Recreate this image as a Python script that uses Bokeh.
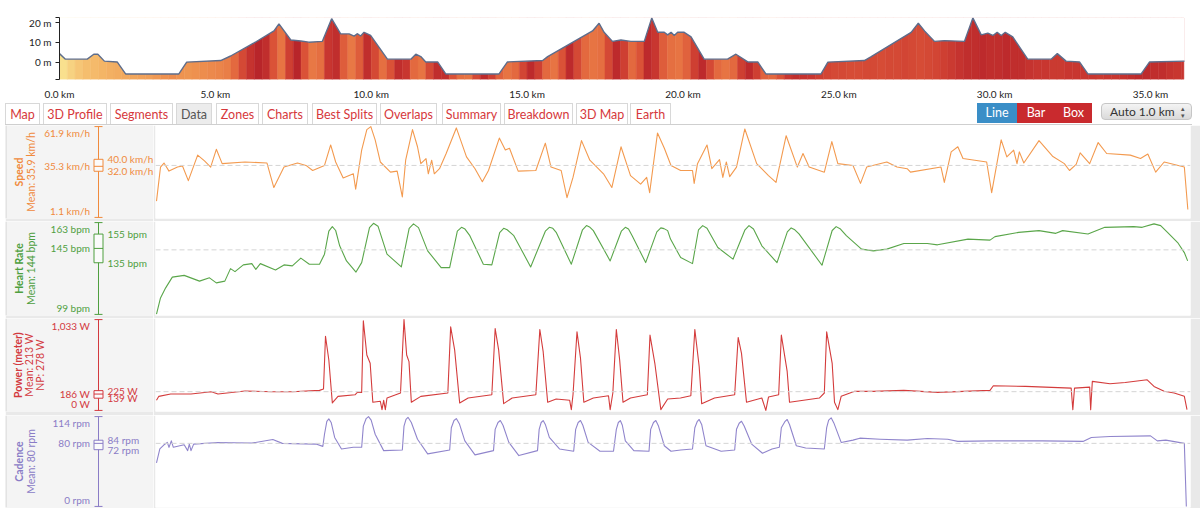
from math import pi
import numpy as np
from bokeh.plotting import figure
from bokeh.models import (Range1d, FixedTicker, PrintfTickFormatter, Span,
                          ColumnDataSource, LinearColorMapper, Div)
from bokeh.transform import transform
from bokeh.layouts import column, row
from bokeh.embed import file_html
from bokeh.resources import INLINE
from bokeh.core.properties import value

FONT = "Lato"

# ---------------- elevation profile (distance km, elevation m) ----------------
elev_km = [0.0, 0.19, 0.89, 1.1, 1.23, 1.44, 1.85, 2.12, 3.83, 4.08,
           5.17, 5.49, 6.24, 6.88, 7.04, 7.42, 7.74, 8.0, 8.43, 8.73,
           9.02, 9.29, 9.45, 9.56, 9.66, 9.77, 9.98, 10.52, 11.27, 11.43,
           11.59, 11.75, 12.13, 12.39, 14.1, 14.37, 15.5, 15.66, 17.1, 17.31,
           17.47, 17.74, 18.01, 18.33, 18.76, 19.0, 19.19, 19.4, 19.51, 19.62,
           19.72, 19.83, 20.04, 20.26, 20.68, 21.43, 21.7, 22.08, 22.4, 22.66,
           24.43, 24.65, 25.82, 26.04, 27.32, 27.55, 27.75, 28.07, 28.39, 29.03,
           29.3, 29.57, 29.78, 29.94, 30.08, 30.21, 30.34, 30.58, 31.06, 31.81,
           32.01, 32.29, 32.72, 32.99, 34.7, 34.97, 36.09]
elev_m = [4.3, 1.5, 1.5, 4.0, 4.0, 0.5, 0.1, -6.0, -6.0, 0.0,
          0.8, 3.1, 9.7, 15.8, 19.4, 11.2, 10.7, 10.1, 10.5, 22.0,
          14.3, 14.3, 13.2, 14.4, 13.2, 15.1, 13.5, 1.5, 1.5, 4.0,
          2.8, 0.1, 0.1, -6.0, -6.0, 0.1, 0.8, 2.8, 15.8, 19.7,
          15.1, 10.5, 11.2, 10.5, 10.5, 22.4, 15.1, 15.1, 13.8, 15.1,
          13.5, 15.1, 15.1, 12.8, 1.5, 1.5, 4.0, 0.1, 0.1, -6.0,
          -6.0, 0.0, 0.8, 2.8, 15.1, 19.7, 15.8, 10.5, 10.9, 10.5,
          22.4, 13.8, 14.7, 13.5, 15.1, 13.5, 15.1, 12.8, 1.5, 1.5,
          4.3, 0.5, 0.1, -6.0, -6.0, 0.1, 0.5]
elev_ticks_km = [0, 5, 10, 15, 20, 25, 30, 35]
elev_ticks_m = [0, 10, 20]

# colour intensity of the profile, one value per 0.25 km
elev_color_level = [
    0.0, 0.08, 0.15, 0.2,   0.22, 0.25, 0.28, 0.3,   0.32, 0.34, 0.36, 0.38,
    0.42, 0.46, 0.48, 0.45, 0.44, 0.46, 0.48, 0.5,   0.52, 0.55, 0.65, 0.8,
    0.92, 1.0, 0.95, 0.75,  0.6, 0.85, 1.0, 0.75,    0.58, 0.62, 0.9, 0.95,
    0.7, 0.58, 0.7, 0.95,   0.8, 0.62, 0.75, 0.95,   0.9, 0.65, 0.6, 0.8,
    0.95, 0.95, 0.75, 0.62, 0.6, 0.8, 0.97, 0.85,    0.68, 0.6, 0.65, 0.82,
    0.97, 0.85, 0.65, 0.6,  0.75, 0.97, 0.8, 0.65,   0.6, 0.62, 0.8, 0.97,
    0.85, 0.65, 0.75, 0.97, 0.9, 0.7, 0.62, 0.6,     0.68, 0.85, 0.97, 0.8,
    0.65, 0.6, 0.65, 0.85,  0.97, 0.85, 0.68, 0.65,  0.75, 0.9, 0.95, 0.92,
    0.9, 0.85, 0.82, 0.8,   0.8, 0.78, 0.78, 0.8,    0.8, 0.78, 0.8, 0.8,
    0.82, 0.8, 0.78, 0.8,   0.82, 0.85, 0.88, 0.92,  0.95, 0.95, 0.97, 0.95,
    0.95, 0.97, 0.95, 0.95, 0.92, 0.9, 0.9, 0.88,    0.88, 0.9, 0.9, 0.9,
    0.9, 0.88, 0.9, 0.9,    0.92, 0.95, 0.97, 0.97,  0.95, 0.95, 0.92, 0.9,
    0.9]
STRIPE_KM = 0.25

# ---------------- data panels (elapsed minutes) ----------------
speed_t = [0, 0.24, 0.45, 0.75, 1.26, 1.56, 1.91, 2.47, 2.88, 3.25,
           3.59, 3.94, 5.31, 6.63, 7.04, 7.65, 8.46, 8.97, 9.37, 10.08,
           10.45, 10.75, 11.2, 11.81, 11.95, 12.31, 12.62, 12.86, 13.12, 13.43,
           14.04, 14.44, 14.75, 14.95, 15.36, 15.66, 15.86, 16.17, 16.31, 16.51,
           16.67, 16.98, 17.38, 17.99, 18.6, 19.11, 19.55, 19.92, 20.57, 20.93,
           21.18, 21.7, 22.76, 23.33, 23.67, 24.28, 24.63, 24.99, 25.5, 26.0,
           26.82, 27.32, 27.87, 28.44, 29.05, 29.41, 29.59, 30.06, 30.47, 30.87,
           31.45, 32.16, 32.26, 32.46, 33.03, 33.32, 33.78, 33.98, 34.19,
           34.39, 34.8, 35.3, 36.01, 36.72, 37.17, 37.78, 38.45, 38.79, 39.16,
           40.07, 40.52, 40.88, 41.79, 42.24, 42.61, 43.82, 44.43, 45.04, 45.24,
           47.07, 47.27, 47.68, 48.08, 48.39, 49.1, 49.81, 50.11, 50.68, 51.02,
           51.43, 51.63, 51.77, 52.04, 52.95, 53.76, 54.47, 54.78, 55.18, 55.42,
           55.99, 56.5, 57.01, 58.43, 59.04, 59.48, 59.95, 60.46, 61.67, 61.88]
speed_v = [12.0, 34.8, 37.5, 32.1, 34.8, 35.5, 25.7, 42.8, 38.9, 34.8,
           46.7, 37.1, 38.2, 37.5, 21.1, 34.8, 37.5, 35.9, 32.5, 35.9,
           49.6, 38.2, 27.5, 30.3, 20.0, 46.2, 59.9, 61.9, 53.0, 38.2,
           31.4, 32.1, 14.8, 39.4, 59.9, 48.4, 37.1, 40.5, 30.3, 39.4,
           30.3, 33.7, 43.9, 61.0, 41.6, 33.7, 25.0, 32.5, 54.2, 46.2,
           47.4, 32.1, 32.5, 50.8, 34.8, 32.5, 14.3, 27.9, 52.5, 39.4,
           30.3, 21.1, 48.4, 29.1, 23.4, 27.9, 17.7, 57.6, 47.4, 35.9,
           32.5, 32.5, 23.9, 37.1, 49.6, 33.7, 39.8, 27.9, 38.2,
           28.4, 34.8, 60.3, 37.1, 29.1, 24.5, 55.8, 34.8, 43.9, 34.8,
           31.4, 51.9, 37.1, 35.9, 23.9, 34.8, 38.2, 34.8, 33.7, 31.4,
           34.8, 24.5, 45.0, 48.4, 40.5, 39.4, 38.2, 17.7, 53.0, 41.6,
           46.2, 37.1, 45.0, 37.5, 52.5, 42.1, 37.1, 32.5, 36.6, 44.3,
           37.1, 51.2, 43.9, 42.8, 40.5, 43.5, 31.4, 38.2, 34.8, 6.4]

hr_t = [0, 0.24, 0.55, 0.95, 1.66, 2.58, 3.18, 3.59, 4.1, 4.44,
        4.71, 5.21, 5.72, 5.96, 6.23, 7.14, 7.65, 8.15, 8.66, 9.17,
        9.78, 10.08, 10.34, 10.55, 10.75, 10.99, 11.4, 11.97, 12.31, 12.78,
        13.02, 13.29, 13.83, 14.69, 15.16, 15.42, 15.72, 16.27, 17.08, 17.59,
        18.05, 18.3, 18.51, 18.8, 19.61, 20.12, 20.59, 20.83, 21.04, 21.44,
        22.45, 23.33, 23.57, 23.78, 23.98, 24.89, 25.56, 25.8, 25.98, 26.21,
        27.22, 27.89, 28.13, 28.32, 28.54, 29.35, 30.02, 30.26, 30.45, 30.67,
        30.84, 31.45, 32.16, 32.52, 32.77, 33.03, 33.68, 34.59, 35.31, 35.55,
        35.82, 36.32, 37.23, 37.85, 38.08, 38.3, 38.55, 39.93, 40.54, 40.78,
        41.04, 41.39, 42.3, 43.01, 43.82, 44.84, 46.25, 46.86, 48.69, 50.01,
        50.31, 51.73, 52.95, 53.96, 54.37, 55.89, 56.9, 58.63, 59.14, 59.85,
        60.25, 60.66, 61.27, 61.67, 61.87]
hr_v = [99.2, 110.5, 117.5, 125.0, 126.2, 122.2, 124.5, 121.0, 122.2, 130.9,
        128.8, 133.5, 134.4, 130.4, 134.4, 130.0, 133.5, 132.8, 138.2, 134.0,
        134.0, 141.0, 157.0, 160.2, 157.5, 146.8, 136.3, 128.5, 135.1, 159.5,
        162.5, 160.5, 141.0, 132.1, 159.0, 162.1, 159.5, 143.3, 131.6, 131.6,
        157.0, 159.7, 158.5, 153.9, 134.0, 133.5, 156.0, 159.0, 158.0, 153.9,
        132.1, 157.0, 159.7, 159.0, 156.2, 134.0, 158.0, 160.9, 160.0, 157.4,
        136.3, 157.0, 159.7, 158.5, 153.9, 135.1, 156.5, 159.3, 158.8, 157.4,
        151.5, 138.6, 134.4, 158.0, 160.9, 159.0, 145.6, 137.5, 158.0, 160.9,
        158.5, 146.8, 135.1, 156.5, 159.3, 158.0, 155.1, 133.3, 157.5, 160.2,
        158.5, 153.9, 144.5, 143.3, 144.5, 148.4, 148.4, 147.5, 151.5, 150.8,
        153.2, 156.2, 157.4, 155.5, 157.4, 155.1, 159.7, 160.2, 159.7, 162.1,
        160.9, 156.2, 149.1, 142.1, 136.3]

power_t = [0, 0.14, 0.85, 2.07, 3.29, 3.69, 5.31, 6.94, 8.15, 9.78,
           10.02, 10.14, 10.34, 10.55, 10.89, 11.91, 12.05, 12.31, 12.41, 12.62,
           12.82, 12.98, 13.43, 13.53, 13.63, 13.73, 13.83, 14.64, 14.85, 15.01,
           15.15, 15.29, 15.86, 17.48, 17.65, 17.89, 18.19, 18.7, 20.12, 20.32,
           20.53, 20.83, 21.34, 22.76, 23.0, 23.2, 23.47, 23.98, 24.79, 24.89,
           24.99, 25.23, 25.44, 25.64, 26.21, 27.12, 27.22, 27.38, 27.59, 27.79,
           27.99, 28.44, 29.45, 29.61, 29.9, 30.26, 30.67, 31.44, 32.06, 32.3,
           32.56, 32.71, 33.48, 34.69, 34.9, 35.1, 35.4, 36.32, 36.56, 36.72,
           37.33, 37.49, 37.84, 37.98, 39.77, 40.07, 40.21, 40.54, 40.68, 40.88,
           41.08, 41.89, 43.01, 44.84, 46.86, 50.01, 50.21, 52.14, 54.88, 54.98,
           55.08, 55.99, 56.05, 56.15, 57.21, 58.12, 59.44, 59.85, 60.46, 61.06,
           61.67, 61.83]
power_v = [115, 160, 186, 186, 212, 186, 220, 212, 212, 228,
           243, 844, 573, 85, 160, 178, 205, 205, 1018, 630,
           536, 93, 104, 9, 115, 9, 141, 198, 1033, 630,
           555, 93, 160, 198, 951, 686, 85, 141, 178, 931,
           686, 77, 141, 178, 920, 668, 93, 130, 115, 9,
           178, 894, 593, 93, 141, 167, 9, 198, 920, 573,
           93, 141, 178, 856, 536, 9, 130, 141, 167, 920,
           499, 77, 141, 178, 830, 649, 93, 141, 0, 152,
           178, 856, 443, 93, 141, 198, 894, 536, 93, 9,
           160, 217, 217, 228, 205, 228, 280, 273, 254, 9,
           254, 265, 9, 330, 303, 318, 348, 273, 217, 198,
           160, 9]

cad_t = [0, 0.2, 0.45, 0.65, 0.75, 0.89, 1.01, 1.66, 1.87, 1.97,
         2.07, 2.23, 3.69, 5.72, 6.98, 7.55, 9.57, 9.98, 10.08, 10.22,
         10.34, 10.48, 10.69, 11.1, 11.81, 12.31, 12.41, 12.58, 12.72, 12.88,
         13.12, 13.63, 14.75, 14.85, 14.97, 15.09, 15.29, 15.66, 16.27, 17.59,
         17.69, 17.85, 17.99, 18.17, 18.5, 19.11, 20.22, 20.32, 20.49, 20.63,
         20.79, 21.14, 21.74, 22.86, 22.96, 23.08, 23.2, 23.33, 23.57, 24.18,
         25.03, 25.15, 25.3, 25.44, 25.58, 25.9, 26.61, 27.42, 27.59, 27.71,
         27.83, 27.95, 28.13, 28.64, 29.55, 29.65, 29.82, 29.96, 30.12, 30.47,
         30.87, 31.45, 32.16, 32.3, 32.44, 32.56, 32.71, 32.97, 33.88,
         34.69, 34.8, 34.96, 35.1, 35.26, 35.71, 36.36, 36.93, 37.37, 37.49,
         37.7, 37.84, 37.98, 38.39, 38.95, 40.07, 40.21, 40.33, 40.48, 40.64,
         41.08, 41.79, 42.2, 43.42, 45.04, 46.26, 47.47, 48.08, 50.11, 53.15,
         55.59, 56.09, 57.21, 59.64, 60.05, 60.56, 61.67, 61.79]
cad_v = [55.1, 72.9, 78.2, 81.2, 75.0, 83.2, 75.0, 78.2, 70.8, 79.1,
         70.8, 79.1, 81.2, 80.4, 85.0, 80.0, 79.1, 76.2, 91.6, 108.0,
         111.1, 106.5, 87.5, 72.9, 75.0, 75.0, 101.9, 111.5, 114.0, 109.5,
         91.6, 70.8, 71.6, 101.9, 110.5, 113.1, 106.5, 85.3, 66.7, 71.6,
         99.9, 109.0, 111.5, 105.0, 83.2, 65.4, 70.8, 97.8, 106.5, 109.0,
         103.0, 81.2, 64.5, 70.8, 97.8, 106.5, 109.0, 104.0, 87.5, 72.9,
         70.0, 97.8, 106.5, 109.0, 103.0, 81.2, 70.0, 70.0, 97.8, 106.5,
         109.0, 103.0, 83.2, 70.8, 70.0, 97.8, 106.5, 109.0, 102.0, 77.0,
         70.0, 71.6, 72.9, 99.9, 107.5, 110.3, 104.0, 77.0, 70.0,
         71.6, 97.8, 105.5, 108.1, 102.0, 79.1, 67.5, 72.9, 75.0, 99.9,
         107.5, 110.3, 104.0, 77.0, 74.1, 72.9, 99.9, 109.5, 112.4, 106.0,
         81.2, 84.1, 86.6, 85.3, 84.1, 86.2, 85.3, 82.5, 83.2, 83.2,
         82.5, 87.5, 88.7, 89.5, 83.2, 84.1, 80.0, 0.0]

# box stats: min, q1, median, q3, max
speed_box = [1.1, 32.0, 35.3, 40.0, 61.9]
hr_box = [99, 135, 145, 155, 163]
power_box = [0, 139, 186, 225, 1033]
cad_box = [0, 72, 80, 84, 114]
speed_mean, hr_mean, power_mean, power_np, cad_mean = 35.9, 144, 213, 278, 80

TAB_NAMES = ["Map", "3D Profile", "Segments", "Data", "Zones", "Charts",
             "Best Splits", "Overlaps", "Summary", "Breakdown", "3D Map", "Earth"]

# ---------------- styling ----------------
W = 1192
ROW_W = 1200
LEFT_W = 148
GAP_COLOR = "#e9e9e9"
LEFT_BG = "#f4f4f4"
ELEV_BOTTOM, ELEV_TOP = -8.8, 22.6
T_START, T_END = -0.06, 62.04


def hex2rgb(h):
    return tuple(int(h[i:i + 2], 16) for i in (1, 3, 5))


anchors = [(0.0, "#f9e08e"), (0.25, "#f4b566"), (0.45, "#ee9350"), (0.6, "#e77443"),
           (0.75, "#da5237"), (0.9, "#c83630"), (1.0, "#b8252a")]
palette = []
for i in range(101):
    f = i / 100
    for (a, ca), (b, cb) in zip(anchors[:-1], anchors[1:]):
        if a <= f <= b:
            w = (f - a) / (b - a)
            r1, r2 = hex2rgb(ca), hex2rgb(cb)
            palette.append("#%02x%02x%02x" % tuple(round(x + (y - x) * w) for x, y in zip(r1, r2)))
            break
mapper = LinearColorMapper(palette=palette, low=0, high=1)

# ---------------- elevation figure ----------------
KM_END = elev_km[-1]
STRIPE_END = KM_END - 0.02          # keep the colour bands inside the white mask
STRIPE_TOP = max(elev_m)
X_END = KM_END + 0.16               # a little empty room after the profile
elev = figure(width=W, height=102, x_range=Range1d(0, X_END),
              y_range=Range1d(ELEV_BOTTOM, ELEV_TOP),
              toolbar_location=None, output_backend="svg", title=None,
              min_border_left=59, min_border_right=3, min_border_top=17, min_border_bottom=17)
stripe_left = np.minimum(np.arange(len(elev_color_level)) * STRIPE_KM, STRIPE_END)
stripe_right = np.minimum(stripe_left + STRIPE_KM, STRIPE_END)
stripes = ColumnDataSource(dict(left=stripe_left, right=stripe_right, level=elev_color_level))
elev.quad(left="left", right="right", bottom=ELEV_BOTTOM, top=STRIPE_TOP, source=stripes,
          fill_color=transform("level", mapper), line_color=transform("level", mapper), line_width=0.5)
elev.varea(x=elev_km, y1=elev_m, y2=ELEV_TOP + 3, fill_color="white")
elev.line(elev_km, elev_m, line_color="#5d6d8c", line_width=1.4)
elev.grid.grid_line_color = None
elev.outline_line_color = None
elev.xaxis.ticker = FixedTicker(ticks=elev_ticks_km)
elev.xaxis.formatter = PrintfTickFormatter(format="%.1f km")
elev.xaxis.axis_line_color = None
elev.xaxis.major_tick_line_color = None
elev.xaxis.minor_tick_line_color = None
elev.xaxis.major_label_standoff = 2
elev.yaxis.ticker = FixedTicker(ticks=[ELEV_BOTTOM] + elev_ticks_m + [ELEV_TOP])
elev.yaxis.major_label_overrides = {ELEV_BOTTOM: "", ELEV_TOP: "", 0: "0 m", 10: "10 m", 20: "20 m"}
elev.yaxis.major_tick_out = 4
elev.yaxis.major_tick_in = 0
elev.yaxis.minor_tick_line_color = None
elev.yaxis.axis_line_color = "#222222"
elev.yaxis.major_tick_line_color = "#222222"
elev.yaxis.major_label_standoff = 4
for ax in (elev.xaxis, elev.yaxis):
    ax.major_label_text_font = FONT
    ax.major_label_text_font_size = "10px"
    ax.major_label_text_color = "#222222"

# ---------------- tab bar ----------------
TAB_X = [(5, 40), (43, 107), (110, 173), (176, 212), (216, 259), (262, 308),
         (312, 377), (380, 437), (442, 501), (504, 573), (576, 628), (630, 671)]
parts = [f'<div style="position:relative;width:{W}px;height:23px;font-family:Lato,sans-serif;">']
for name, (x0, x1) in zip(TAB_NAMES, TAB_X):
    active = name == "Data"
    bg = "#ececec" if active else "#ffffff"
    fg = "#555555" if active else "#d6383c"
    parts.append(
        f'<div style="position:absolute;left:{x0}px;top:1px;width:{x1 - x0}px;height:22px;'
        f'box-sizing:border-box;border:1px solid #d8d8d8;border-bottom:none;background:{bg};'
        f'color:{fg};font-size:12.5px;line-height:21px;text-align:center;white-space:nowrap;">{name}</div>')
parts.append(f'<div style="position:absolute;left:5px;top:22px;width:{W - 5}px;height:1px;background:#cfcfcf;"></div>')
for name, (x0, x1), bg in [("Line", (977, 1017), "#3a8ec7"), ("Bar", (1017, 1055), "#c92a2e"),
                           ("Box", (1055, 1092), "#c92a2e")]:
    parts.append(
        f'<div style="position:absolute;left:{x0}px;top:1px;width:{x1 - x0}px;height:20px;'
        f'background:{bg};color:#ffffff;font-size:12.5px;line-height:20px;text-align:center;">{name}</div>')
parts.append(
    '<div style="position:absolute;left:1101px;top:1px;width:91px;height:17px;box-sizing:border-box;'
    'border:1px solid #c6c6c6;border-radius:4px;background:linear-gradient(#f4f4f4,#dadada);'
    'color:#333333;font-size:12px;line-height:15px;padding-left:8px;">Auto 1.0 km'
    '<span style="position:absolute;right:6px;top:1px;font-size:7px;line-height:7px;color:#555;">'
    '&#9652;<br>&#9662;</span></div>')
parts.append('</div>')
tabdiv = Div(text="".join(parts), width=W, height=23, margin=(0, 0, 0, 0))

# ---------------- data panels ----------------
BX = 93  # position of the box-plot axis inside the label column


def make_panel(t, v, box, titles, color, line_color, fmt, mean, fig_h, gap, title_x):
    lo, q1, med, q3, hi = box
    pad = (hi - lo) * 0.012
    yr = Range1d(lo - pad, hi + pad)
    mf = figure(width=ROW_W - 5 - LEFT_W, height=fig_h, x_range=Range1d(T_START, T_END), y_range=yr,
                toolbar_location=None, output_backend="svg", title=None,
                x_axis_location=None, y_axis_location=None,
                min_border_left=2, min_border_right=10, min_border_top=0, min_border_bottom=gap,
                background_fill_color="white", border_fill_color=GAP_COLOR)
    mf.outline_line_color = None
    mf.grid.grid_line_color = None
    mf.add_layout(Span(location=mean, dimension="width", line_color="#d4d4d4",
                       line_dash="5 3", line_width=1))
    mf.line(t, v, line_color=line_color, line_width=1.1, line_join="round")

    lf = figure(width=LEFT_W, height=fig_h, x_range=Range1d(0, LEFT_W), y_range=yr,
                toolbar_location=None, output_backend="svg", title=None,
                x_axis_location=None, y_axis_location=None,
                min_border_left=0, min_border_right=0, min_border_top=0, min_border_bottom=gap,
                background_fill_color=LEFT_BG, border_fill_color=GAP_COLOR)
    lf.outline_line_color = None
    lf.grid.grid_line_color = None
    lf.add_layout(Span(location=0.5, dimension="height", line_color="#d2d2d2", line_width=1))
    ymid = (lo + hi) / 2
    for i, (txt, tx) in enumerate(zip(titles, title_x)):
        lf.text(x=[tx], y=[ymid], text=[txt], angle=pi / 2, text_align="center",
                text_baseline="middle", text_font=value(FONT), text_font_size="10.5px",
                text_font_style="bold" if i == 0 else "normal", text_color=color)
    lf.segment(x0=[BX], y0=[lo], x1=[BX], y1=[hi], line_color=color, line_width=1)
    lf.segment(x0=[BX - 4, BX - 4], y0=[lo, hi], x1=[BX + 4, BX + 4], y1=[lo, hi],
               line_color=color, line_width=1)
    lf.quad(left=[BX - 4.5], right=[BX + 4.5], bottom=[q1], top=[q3],
            fill_color="#fbfbfb", line_color=color, line_width=1)
    lf.segment(x0=[BX - 4.5], y0=[med], x1=[BX + 4.5], y1=[med], line_color=color, line_width=1)
    for val, base in [(hi, "top"), (med, "middle"), (lo, "bottom")]:
        lf.text(x=[BX - 8.5], y=[val], text=[fmt(val)], text_align="right", text_baseline=base,
                text_font=value(FONT), text_font_size="10px", text_color=color)
    for val in (q3, q1):
        lf.text(x=[BX + 9], y=[val], text=[fmt(val)], text_align="left", text_baseline="middle",
                text_font=value(FONT), text_font_size="10px", text_color=color)
    return row(lf, mf, margin=(0, 0, 0, 5))


speed_row = make_panel(speed_t, speed_v, speed_box, ["Speed", f"Mean: {speed_mean} km/h"],
                       "#f08a3c", "#f39a4f", lambda x: f"{x:.1f} km/h", speed_mean, 96, 3, [13, 25])
hr_row = make_panel(hr_t, hr_v, hr_box, ["Heart Rate", f"Mean: {hr_mean} bpm"],
                    "#4f9f3f", "#5aa64a", lambda x: f"{x:.0f} bpm", hr_mean, 97, 3, [13, 25])
power_row = make_panel(power_t, power_v, power_box,
                       ["Power (meter)", f"Mean: {power_mean} W", f"NP: {power_np} W"],
                       "#d3393e", "#d43c3c", lambda x: f"{x:,.0f} W", power_mean, 97, 4, [12, 23, 34])
cad_row = make_panel(cad_t, cad_v, cad_box, ["Cadence", f"Mean: {cad_mean} rpm"],
                     "#8a7cc6", "#9085cc", lambda x: f"{x:.0f} rpm", cad_mean, 93, 1, [13, 25])

layout = column(elev, tabdiv, speed_row, hr_row, power_row, cad_row)
open("out.html", "w").write(file_html(layout, INLINE))
